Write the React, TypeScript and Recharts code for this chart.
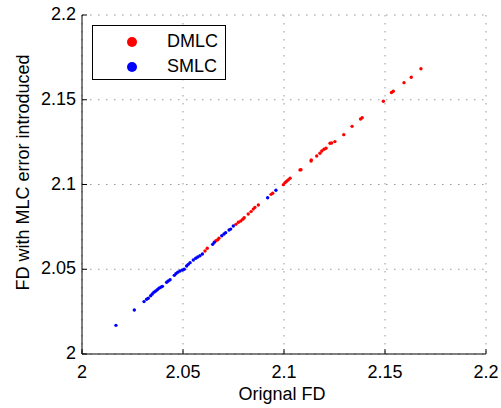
import {
  ScatterChart,
  Scatter,
  XAxis,
  YAxis,
  CartesianGrid,
  Label,
} from "recharts";

// values
const smlcX = [
  2.0168, 2.0259, 2.0307, 2.032, 2.0328, 2.034, 2.0348, 2.0356, 2.0365, 2.0373,
  2.0381, 2.039, 2.0398, 2.0419, 2.0427, 2.0436, 2.0457, 2.0465, 2.0474, 2.0485,
  2.0497, 2.0506, 2.0518, 2.0526, 2.0535, 2.0551, 2.0563, 2.0573, 2.0584, 2.0596,
  2.0647, 2.0655, 2.0692, 2.0703, 2.0711, 2.0728, 2.0736, 2.0749, 2.0919, 2.096,
];
const smlcY = [
  2.0169, 2.026, 2.0309, 2.0323, 2.0329, 2.0344, 2.0354, 2.0364, 2.0372, 2.0379,
  2.0388, 2.0394, 2.0399, 2.0423, 2.0431, 2.0438, 2.0464, 2.0474, 2.0482, 2.049,
  2.0496, 2.05, 2.0519, 2.0529, 2.0539, 2.0555, 2.0565, 2.0572, 2.058, 2.059,
  2.0647, 2.0659, 2.0698, 2.0708, 2.0716, 2.0732, 2.0737, 2.0755, 2.0922, 2.0966,
];
const dmlcX = [
  2.0609, 2.062, 2.0663, 2.0672, 2.0678, 2.0762, 2.0774, 2.0786, 2.0796, 2.0803,
  2.0823, 2.0837, 2.0848, 2.0856, 2.0873, 2.0936, 2.0944, 2.0997, 2.1005, 2.1013,
  2.1021, 2.103, 2.1079, 2.1084, 2.1134, 2.1135, 2.1162, 2.1178, 2.1187, 2.1198,
  2.1208, 2.1228, 2.1236, 2.1252, 2.1296, 2.1337, 2.1379, 2.1387, 2.1492, 2.1532,
  2.1541, 2.1594, 2.163, 2.1678,
];
const dmlcY = [
  2.0608, 2.0624, 2.0668, 2.0674, 2.0683, 2.0765, 2.0777, 2.0785, 2.0795, 2.0804,
  2.0826, 2.084, 2.0855, 2.0865, 2.0879, 2.0942, 2.0948, 2.0999, 2.1011, 2.1019,
  2.1027, 2.1037, 2.1086, 2.1087, 2.1139, 2.1145, 2.1168, 2.1184, 2.1198, 2.1208,
  2.1214, 2.1243, 2.1245, 2.1253, 2.1294, 2.1343, 2.1386, 2.1394, 2.1491, 2.1543,
  2.155, 2.1601, 2.1633, 2.1683,
];
const axisTicks = [2, 2.05, 2.1, 2.15, 2.2];
const legendItems = [
  { name: "DMLC", color: "#ff0000" },
  { name: "SMLC", color: "#0000ff" },
];

const smlcData = smlcX.map((x, i) => ({ x, y: smlcY[i] }));
const dmlcData = dmlcX.map((x, i) => ({ x, y: dmlcY[i] }));

const FONT = "'Liberation Sans', Arial, Helvetica, sans-serif";

const XTick = ({ x, y, payload }: any) => (
  <g>
    <line x1={x} y1={y} x2={x} y2={y - 5} stroke="#000" />
    <text x={x} y={y + 24} textAnchor="middle" fontSize={18} fill="#000" fontFamily={FONT}>
      {String(payload.value)}
    </text>
  </g>
);

const YTick = ({ x, y, payload }: any) => (
  <g>
    <line x1={x} y1={y} x2={x + 5} y2={y} stroke="#000" />
    <text x={x - 6} y={y + 5} textAnchor="end" fontSize={18} fill="#000" fontFamily={FONT}>
      {String(payload.value)}
    </text>
  </g>
);

const Dot = (color: string) => (props: any) =>
  <circle cx={props.cx} cy={props.cy} r={1.7} fill={color} />;

// legend drawn as an overlay so it does not take space from the plot
const LegendBox = () => (
  <div
    style={{
      position: "absolute",
      left: 92,
      top: 25,
      width: 132,
      height: 53,
      border: "1px solid #000",
      background: "#fff",
      fontFamily: FONT,
      fontSize: 18,
    }}
  >
    {legendItems.map((it, i) => {
      const top = 16 + i * 25;
      return (
        <div key={it.name}>
          <span
            style={{
              position: "absolute",
              left: 34,
              top: top - 5,
              width: 10,
              height: 10,
              borderRadius: 5,
              background: it.color,
            }}
          />
          <span style={{ position: "absolute", left: 74, top: top - 11, lineHeight: "20px" }}>
            {it.name}
          </span>
        </div>
      );
    })}
  </div>
);

export default function App() {
  return (
    <div style={{ position: "absolute", left: 0, top: 0, width: 501, height: 408, background: "#fff" }}>
      <ScatterChart width={501} height={408} margin={{ top: 15, right: 15, bottom: 0, left: 0 }}>
        {/* MATLAB-style dotted grid */}
        <CartesianGrid stroke="#999" strokeDasharray="1.5 6.5" />
        <XAxis
          type="number"
          dataKey="x"
          domain={[2, 2.2]}
          ticks={axisTicks}
          height={54}
          tickSize={0}
          tickMargin={0}
          tickLine={false}
          axisLine={{ stroke: "#000" }}
          tick={<XTick />}
        >
          <Label
            content={({ viewBox }: any) => (
              <text
                x={viewBox.x + viewBox.width / 2 - 2}
                y={400}
                textAnchor="middle"
                fontSize={18}
                fill="#000"
                fontFamily={FONT}
              >
                Orignal FD
              </text>
            )}
          />
        </XAxis>
        <YAxis
          type="number"
          dataKey="y"
          domain={[2, 2.2]}
          ticks={axisTicks}
          width={82}
          tickSize={0}
          tickMargin={0}
          tickLine={false}
          axisLine={{ stroke: "#000" }}
          tick={<YTick />}
        >
          <Label
            content={({ viewBox }: any) => (
              <text
                x={0}
                y={0}
                transform={`translate(29, ${viewBox.y + viewBox.height / 2 - 12}) rotate(-90)`}
                textAnchor="middle"
                fontSize={18}
                fill="#000"
                fontFamily={FONT}
              >
                FD with MLC error introduced
              </text>
            )}
          />
        </YAxis>
        <Scatter name="DMLC" data={dmlcData} fill="#ff0000" shape={Dot("#ff0000")} isAnimationActive={false} />
        <Scatter name="SMLC" data={smlcData} fill="#0000ff" shape={Dot("#0000ff")} isAnimationActive={false} />
      </ScatterChart>
      <LegendBox />
    </div>
  );
}
